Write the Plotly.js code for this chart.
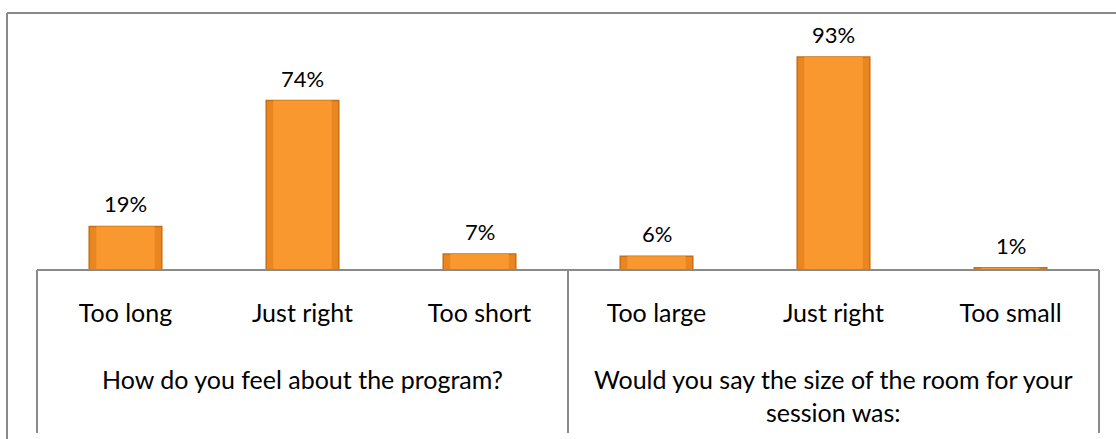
<!DOCTYPE html>
<html><head><meta charset="utf-8">
<script src="https://cdn.plot.ly/plotly-3.0.1.min.js"></script>
<style>html,body{margin:0;padding:0;background:#fff}#c{width:1116px;height:439px}</style>
</head><body><div id="c"></div>
<script>
const categories = ["Too long","Just right","Too short","Too large","Just right","Too small"];
const groups = ["How do you feel about the program?","Would you say the size of the room for your<br>session was:"];
const groupOf = [0,0,0,1,1,1];
const values = [19,74,7,6,93,1];
const valueLabels = ["19%","74%","7%","6%","93%","1%"];

const W=1116,H=439, L=37, R=1099, T=41, B=270;
const ids = categories.map((c,i)=>"c"+i);
const px = x => (x-L)/(R-L);
const py = y => (B-y)/(B-T);
const font = "Lato, 'Noto Sans', sans-serif";

const base = {
  type:'bar', x:ids, y:values, width:0.41,
  marker:{color:'#E9861F', line:{color:'#C96E14', width:1.5}},
  hoverinfo:'skip'
};
const face = {
  type:'bar', x:ids, y:values, width:0.33,
  marker:{color:'#F9982F', line:{width:0}},
  hoverinfo:'skip'
};
const annotations = values.map((v,i)=>({
  x:ids[i], y:v, xref:'x', yref:'y', text:valueLabels[i], showarrow:false,
  yanchor:'bottom', yshift:7, font:{size:22,color:'#000',family:font}
}));
groups.forEach((g,gi)=>{
  const idx = groupOf.map((q,i)=>q===gi?i:-1).filter(i=>i>=0);
  annotations.push({x:ids[idx[1]], xref:'x', yref:'paper', y:py(362), yanchor:'top',
    text:g, showarrow:false, font:{size:25,color:'#000',family:font}, align:'center'});
});
const gray='#8a8a8a';
const shapes = [
  {type:'line', xref:'paper', yref:'paper', x0:px(7), x1:px(1116), y0:py(13), y1:py(13), line:{color:gray,width:2}},
  {type:'line', xref:'paper', yref:'paper', x0:px(7), x1:px(7), y0:py(13), y1:py(439), line:{color:gray,width:2}},
  {type:'line', xref:'paper', yref:'paper', x0:px(37), x1:px(1099), y0:py(270), y1:py(270), line:{color:gray,width:2}},
  {type:'line', xref:'paper', yref:'paper', x0:px(37), x1:px(37), y0:py(270), y1:py(433), line:{color:gray,width:2}},
  {type:'line', xref:'paper', yref:'paper', x0:px(568), x1:px(568), y0:py(270), y1:py(433), line:{color:gray,width:2}},
  {type:'line', xref:'paper', yref:'paper', x0:px(1099), x1:px(1099), y0:py(270), y1:py(433), line:{color:gray,width:2}}
];
const layout = {
  width:W, height:H, margin:{l:L, r:W-R, t:T, b:H-B},
  paper_bgcolor:'#fff', plot_bgcolor:'#fff', showlegend:false, barmode:'overlay',
  xaxis:{type:'category', tickvals:ids, ticktext:categories, showline:false, showgrid:false,
    ticks:'', ticklabelstandoff:26, tickfont:{size:25,color:'#000',family:font}, fixedrange:true},
  yaxis:{range:[0,100], visible:false, fixedrange:true},
  annotations, shapes
};
Plotly.newPlot('c',[base, face],layout,{displayModeBar:false,staticPlot:true});
</script></body></html>
